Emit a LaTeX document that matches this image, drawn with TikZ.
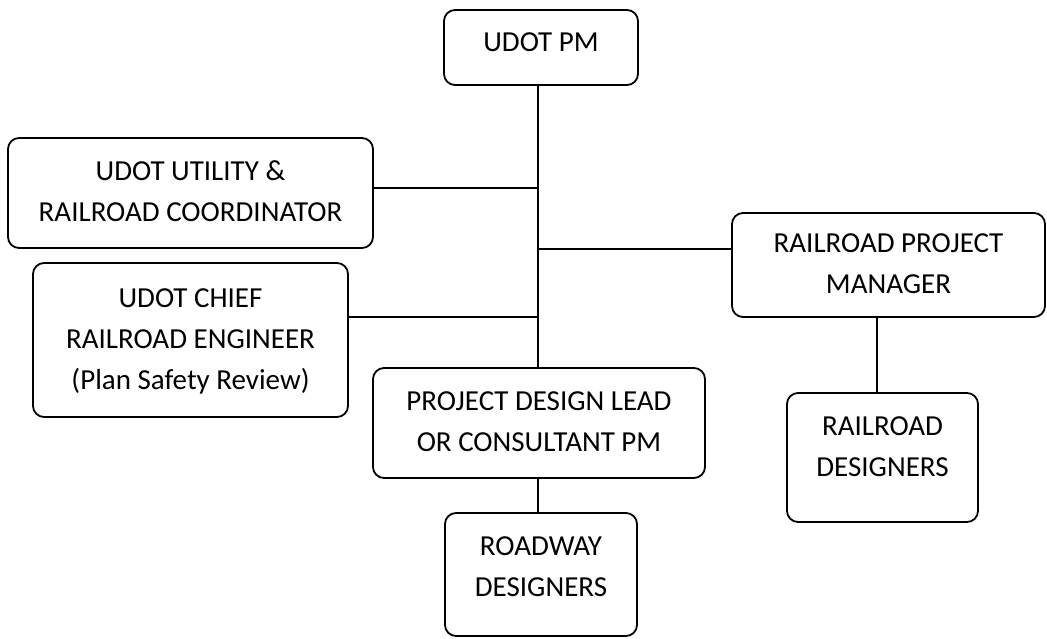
\documentclass[tikz,border=0pt]{standalone}
\usepackage{fontspec}
\setmainfont{Carlito}
\newcommand\liftbox[2]{\raisebox{#1}[\height][\depth]{\begin{tabular}{@{}c@{}}#2\end{tabular}}}
\begin{document}
\begin{tikzpicture}[x=1pt,y=-1pt,
  orgbox/.style={draw=black, line width=1.8pt, rounded corners=11pt, inner sep=0pt, outer sep=0pt,
    font=\fontsize{29}{41}\selectfont, align=center},
  link/.style={draw=black, line width=1.8pt}]
\useasboundingbox (0,0) rectangle (1047,639);
\node[orgbox, minimum width=194pt, minimum height=75pt] (pm) at (541,47.5) {\liftbox{4pt}{UDOT PM}};
\node[orgbox, minimum width=365pt, minimum height=110pt] (util) at (190.5,193) {\liftbox{0pt}{UDOT UTILITY \&\\RAILROAD COORDINATOR}};
\node[orgbox, minimum width=315pt, minimum height=154pt] (chief) at (190.5,340) {\liftbox{0pt}{UDOT CHIEF\\RAILROAD ENGINEER\\(Plan Safety Review)}};
\node[orgbox, minimum width=332pt, minimum height=110pt] (proj) at (539,423) {\liftbox{0pt}{PROJECT DESIGN LEAD\\OR CONSULTANT PM}};
\node[orgbox, minimum width=192pt, minimum height=123pt] (road) at (541,574.5) {\liftbox{7pt}{ROADWAY\\DESIGNERS}};
\node[orgbox, minimum width=313pt, minimum height=104pt] (rrpm) at (888.5,265) {\liftbox{0pt}{RAILROAD PROJECT\\MANAGER}};
\node[orgbox, minimum width=191pt, minimum height=129pt] (rrd) at (882.5,457.5) {\liftbox{10pt}{RAILROAD\\DESIGNERS}};
\coordinate (tk) at (538,0);
\coordinate (rk) at (877,0);
\coordinate (y1) at (0,188);
\coordinate (y2) at (0,249);
\coordinate (y3) at (0,317);
\draw[link] (tk |- pm.south) -- (tk |- proj.north);
\draw[link] (util.east |- y1) -- (tk |- y1);
\draw[link] (tk |- y2) -- (rrpm.west |- y2);
\draw[link] (chief.east |- y3) -- (tk |- y3);
\draw[link] (tk |- proj.south) -- (tk |- road.north);
\draw[link] (rk |- rrpm.south) -- (rk |- rrd.north);
\end{tikzpicture}
\end{document}
